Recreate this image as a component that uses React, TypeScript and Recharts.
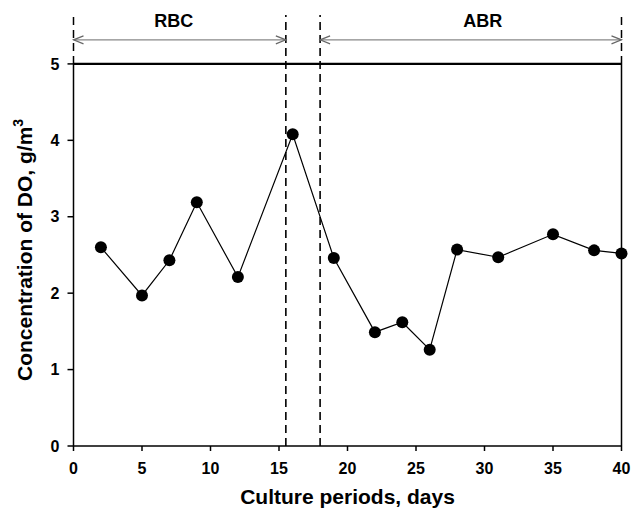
import React from "react"
import { LineChart, Line, XAxis, YAxis, ReferenceLine, Label } from "recharts"

// culture day vs dissolved oxygen
const days = [2, 5, 7, 9, 12, 16, 19, 22, 24, 26, 28, 31, 35, 38, 40]
const doConc = [2.6, 1.97, 2.43, 3.19, 2.21, 4.08, 2.46, 1.49, 1.62, 1.26, 2.57, 2.47, 2.77, 2.56, 2.52]

const xTicks = [0, 5, 10, 15, 20, 25, 30, 35, 40]
const yTicks = [0, 1, 2, 3, 4, 5]

// operating phases: label, start day, end day
const phaseNames = ["RBC", "ABR"]
const phaseStart = [0, 18]
const phaseEnd = [15.5, 40]
const phaseLabelShift = [-6, 12]
const dividers = [15.5, 18]

const yMax = 5
const yTop = 5.64
const arrowY = 5.315

const data = days.map((d, i) => ({ day: d, value: doConc[i] }))

const font = "'Liberation Sans', Arial, sans-serif"

function ArrowShape(props: any) {
  const { x1, y1, x2, y2 } = props
  const h = 10
  const w = 4
  return (
    <g>
      <line x1={x1} y1={y1} x2={x2} y2={y2} stroke="#888" strokeWidth={1.2} />
      <polyline
        points={`${x1 + h},${y1 - w} ${x1},${y1} ${x1 + h},${y1 + w}`}
        fill="none"
        stroke="#666"
        strokeWidth={1.2}
      />
      <polyline
        points={`${x2 - h},${y2 - w} ${x2},${y2} ${x2 - h},${y2 + w}`}
        fill="none"
        stroke="#666"
        strokeWidth={1.2}
      />
    </g>
  )
}

function YTitle(props: any) {
  const { viewBox } = props
  const cx = viewBox.x + 17
  const cy = viewBox.y + (viewBox.height * (yTop - yMax / 2)) / yTop - 5
  return (
    <text
      x={cx}
      y={cy}
      transform={`rotate(-90, ${cx}, ${cy})`}
      textAnchor="middle"
      fontFamily={font}
      fontWeight="bold"
      fontSize={21}
      fill="#000"
    >
      Concentration of DO, g/m
      <tspan dy={-9} fontSize={14}>
        3
      </tspan>
    </text>
  )
}

export default function App() {
  return (
    <div style={{ position: "absolute", left: 0, top: 0, background: "#fff" }}>
      <LineChart
        width={638}
        height={509}
        data={data}
        margin={{ top: 15, right: 16.5, bottom: 5, left: 15.5 }}
      >
        <XAxis
          dataKey="day"
          type="number"
          domain={[0, 40]}
          ticks={xTicks}
          tickSize={5}
          tickMargin={12}
          height={58}
          stroke="#000"
          strokeWidth={1.5}
          tick={{ fill: "#000", fontFamily: font, fontWeight: "bold", fontSize: 16 }}
        >
          <Label
            value="Culture periods, days"
            position="insideBottom"
            offset={0}
            style={{ fill: "#000", fontFamily: font, fontWeight: "bold", fontSize: 21 }}
          />
        </XAxis>
        <YAxis
          type="number"
          domain={[0, yTop]}
          ticks={yTicks}
          allowDataOverflow
          axisLine={false}
          tickSize={6}
          tickMargin={8}
          width={58}
          stroke="#000"
          tickLine={{ stroke: "#000", strokeWidth: 1.5 }}
          tick={{ fill: "#000", fontFamily: font, fontWeight: "bold", fontSize: 16 }}
        >
          <Label content={<YTitle />} />
        </YAxis>

        {/* frame */}
        <ReferenceLine segment={[{ x: 0, y: 0 }, { x: 0, y: yMax }]} stroke="#000" strokeWidth={1.5} />
        <ReferenceLine segment={[{ x: 40, y: 0 }, { x: 40, y: yMax }]} stroke="#000" strokeWidth={1.5} />
        <ReferenceLine segment={[{ x: 0, y: yMax }, { x: 40, y: yMax }]} stroke="#000" strokeWidth={2.2} />
        <ReferenceLine segment={[{ x: 0, y: yMax }, { x: 0, y: yTop }]} stroke="#000" strokeWidth={1.5} strokeDasharray="8 5" />
        <ReferenceLine segment={[{ x: 40, y: yMax }, { x: 40, y: yTop }]} stroke="#000" strokeWidth={1.5} strokeDasharray="8 5" />

        {dividers.map((d) => (
          <ReferenceLine
            key={d}
            segment={[{ x: d, y: 0 }, { x: d, y: yTop }]}
            stroke="#000"
            strokeWidth={1.6}
            strokeDasharray="8 5"
          />
        ))}

        {phaseNames.map((name, i) => (
          <ReferenceLine
            key={name}
            segment={[{ x: phaseStart[i], y: arrowY }, { x: phaseEnd[i], y: arrowY }]}
            shape={ArrowShape}
          >
            <Label
              value={name}
              position="top"
              offset={13}
              dx={phaseLabelShift[i]}
              style={{ fill: "#000", fontFamily: font, fontWeight: "bold", fontSize: 18 }}
            />
          </ReferenceLine>
        ))}

        <Line
          dataKey="value"
          stroke="#000"
          strokeWidth={1.2}
          dot={{ r: 6, fill: "#000", stroke: "#000", strokeWidth: 0 }}
          isAnimationActive={false}
        />
      </LineChart>
    </div>
  )
}
